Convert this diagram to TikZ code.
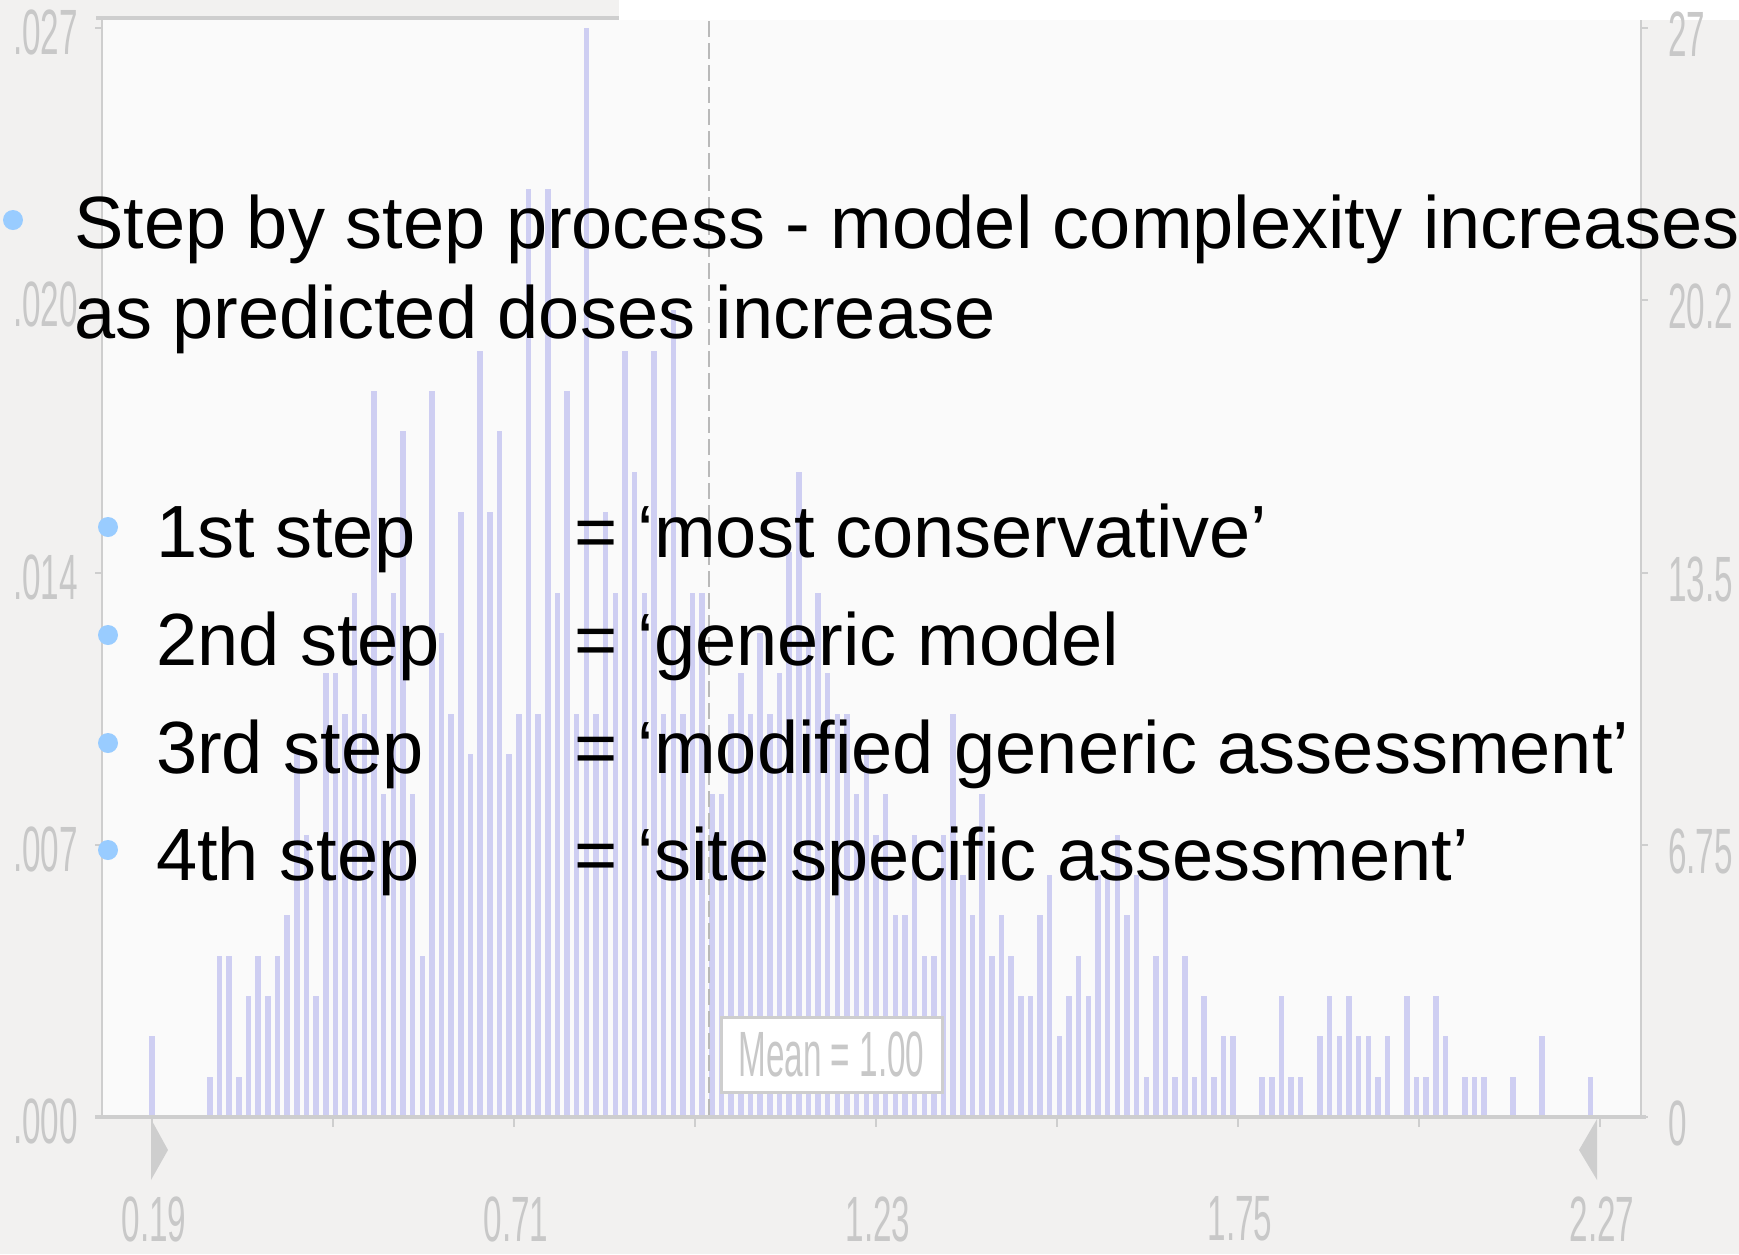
\documentclass[tikz,border=0pt]{standalone}
\usepackage{fontspec}
\setmainfont{Liberation Sans}
\newfontfamily\axisfont[FakeStretch=0.52]{Liberation Sans}
\usetikzlibrary{positioning}
\definecolor{SlideBg}{RGB}{242,241,240}
\definecolor{PlotBg}{RGB}{250,250,250}
\definecolor{AxisGray}{RGB}{206,206,206}
\definecolor{LabelGray}{RGB}{200,200,200}
\definecolor{MeanGray}{RGB}{185,185,185}
\definecolor{BarBlue}{RGB}{206,206,242}
\definecolor{BulletBlue}{RGB}{153,204,255}

\begin{document}
\begin{tikzpicture}[
  x=1pt,y=-1pt,
  bodytext/.style={anchor=base west,inner sep=0pt,font=\fontsize{74}{80}\selectfont},
  dot/.style={circle,fill=BulletBlue,inner sep=0pt,minimum size=20pt},
  axislabel/.style={inner sep=0pt,text=LabelGray,font=\axisfont\fontsize{64}{64}\selectfont},
  bar/.style={fill=BarBlue},
  axisline/.style={draw=AxisGray,line width=3.5pt},
  frameline/.style={draw=AxisGray,line width=2.5pt},
]

% Hintergrund und Plotfeld
\fill[SlideBg] (0,0) rectangle (1739,1254);
\useasboundingbox (0,0) rectangle (1739,1254);
\fill[PlotBg] (102,20) rectangle (1641,1117);
\fill[white] (619,0) rectangle (1739,20);
\draw[axisline] (96,18) -- (619,18);
\draw[frameline] (102,20) -- (102,1117);
\draw[frameline] (1641,20) -- (1641,1117);

% Histogramm
\foreach \h [count=\i from 0] in {2,0,0,0,0,0,1,4,4,1,3,4,3,4,5,9,7,3,11,11,
  10,13,10,18,8,13,17,8,4,18,12,10,15,9,19,15,17,9,10,23,
  10,23,13,18,10,27,10,15,13,19,16,13,19,10,20,10,13,13,8,8,
  10,11,10,12,10,11,14,16,12,13,11,10,10,8,9,7,8,5,5,7,
  4,4,7,10,6,5,8,4,5,4,3,3,5,6,2,3,4,3,6,6,
  7,5,6,1,4,6,1,4,1,3,1,2,2,0,0,1,1,3,1,1,
  0,2,3,2,3,2,2,1,2,0,3,1,1,3,2,0,1,1,1,0,
  0,1,0,0,2,0,0,0,0,1}
  \fill[bar] ({152+9.653*\i-2.75},1117) rectangle ++(5.5,{-40.33*\h});

% Mittelwert
\draw[MeanGray,line width=2pt,dash pattern=on 16pt off 6pt] (709,21) -- (709,1117);
\node[draw=AxisGray,line width=3pt,fill=white,minimum width=221pt,minimum height=75pt,
  axislabel] (meanbox) at (831.5,1054.5) {Mean = 1.00};

% Achsen
\draw[axisline] (95,1117) -- (1646,1117);
\foreach \k in {0,...,8}
  \draw[frameline] ({152+181*\k},1117) -- ({152+181*\k},1127);
\foreach \v/\y [count=\n] in {.000/1117,.007/845,.014/573,.020/300,.027/28}{
  \draw[frameline] (95,\y) -- (102,\y);
  \draw[frameline] (1641,\y) -- (1648,\y);
  \node[axislabel,anchor=east] (ylab\n) at (78,\y+4) {\v};
}
\foreach \v/\y [count=\n] in {0/1117,6.75/845,13.5/573,20.2/300,27/28}
  \node[axislabel,anchor=west] (rlab\n) at (1668,\y+6) {\v};
\foreach \v [count=\n from 0] in {0.19,0.71,1.23,1.75,2.27}
  \node[axislabel] (xlab\n) at ({154+362*\n},1219) {\v};
\fill[AxisGray] (151,1119) -- (168,1150) -- (151,1180) -- cycle;
\fill[AxisGray] (1597,1119) -- (1579,1150) -- (1597,1180) -- cycle;

% Text
\node[dot] (b0) at (13,220) {};
\node[bodytext] (intro1) at (74,248) {Step by step process - model complexity increases};
\node[bodytext] (intro2) at (74,338) {as predicted doses increase};

\foreach \s/\t/\y [count=\n] in {1st step/= ‘most conservative’/557,
  2nd step/= ‘generic model/665,
  3rd step/= ‘modified generic assessment’/773,
  4th step/= ‘site specific assessment’/880}{
  \node[dot] (d\n) at (108,\y-30) {};
  \node[bodytext] (step\n) at (156,\y) {\s};
  \node[bodytext] (desc\n) at (574,\y) {\t};
}

\end{tikzpicture}
\end{document}
